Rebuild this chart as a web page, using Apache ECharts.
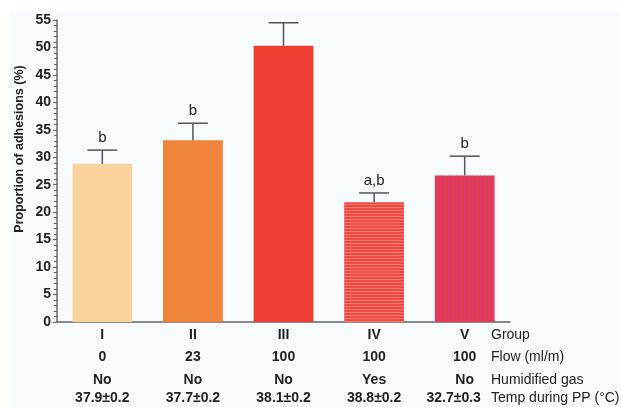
<!DOCTYPE html>
<html><head><meta charset="utf-8">
<script src="https://cdn.jsdelivr.net/npm/echarts@6/dist/echarts.min.js"></script>
<style>html,body{margin:0;padding:0;background:#fff}#c{width:621px;height:407px}</style>
</head><body><div id="c"></div>
<script>
var groups = ['I', 'II', 'III', 'IV', 'V'];
var flows = ['0', '23', '100', '100', '100'];
var humidified = ['No', 'No', 'No', 'Yes', 'No'];
var temps = ['37.9±0.2', '37.7±0.2', '38.1±0.2', '38.8±0.2', '32.7±0.3'];
var rowLabels = ['Group', 'Flow (ml/m)', 'Humidified gas', 'Temp during PP (°C)'];
var means = [28.8, 33.1, 50.3, 21.8, 26.7];
var errors = [2.5, 3.1, 4.2, 1.7, 3.5];
var letters = ['b', 'b', '', 'a,b', 'b'];
var yTicks = [0, 5, 10, 15, 20, 25, 30, 35, 40, 45, 50, 55];

var colors = ['#f8d39b', '#f0843a', '#ee3e34', '#f04b42', '#e63a50'];
var decals = [null, null, null,
  {symbol: 'rect', symbolSize: 1, dashArrayX: [1, 0], dashArrayY: [1, 2], color: 'rgba(255,140,130,0.7)'},
  {symbol: 'rect', symbolSize: 1, dashArrayX: [1, 3], dashArrayY: [1, 0], color: 'rgba(185,70,170,0.55)'}];

var barData = means.map(function (v, i) {
  var st = {color: colors[i]};
  if (decals[i]) st.decal = decals[i];
  return {value: v, itemStyle: st};
});
var errData = means.map(function (v, i) { return [i, v, errors[i]]; });

var chart = echarts.init(document.getElementById('c'));
var axisColor = '#666';
var textFont = '"Liberation Sans", Arial, sans-serif';

var gx = 491;
var rowY = [335, 357, 380, 398];

var graphics = [{
  type: 'rect', z: -10, silent: true,
  shape: {x: 10, y: 12, width: 611, height: 395},
  style: {fill: '#f7fbfe'}
}, {
  type: 'text', x: 20, y: 149, rotation: Math.PI / 2,
  style: {text: 'Proportion of adhesions (%)', font: 'bold 12.5px ' + textFont, fill: '#222', textAlign: 'center', textVerticalAlign: 'middle'}
}];
rowLabels.forEach(function (t, i) {
  graphics.push({type: 'text', x: gx, y: rowY[i],
    style: {text: t, font: '14px ' + textFont, fill: '#222', textAlign: 'left', textVerticalAlign: 'middle'}});
});

var rowStyle = function (lh, pad) {
  var s = {lineHeight: lh, fontSize: 14, fontWeight: 'bold', color: '#222', fontFamily: textFont};
  if (pad) s.padding = pad;
  return s;
};

chart.setOption({
  animation: false,
  backgroundColor: '#fff',
  graphic: graphics,
  grid: {left: 57, right: 111, top: 20, bottom: 85, containLabel: false},
  xAxis: {
    type: 'category',
    data: groups,
    axisLine: {lineStyle: {color: axisColor, width: 1.5}},
    axisTick: {show: false},
    axisLabel: {
      margin: 2,
      interval: 0,
      formatter: function (val, idx) {
        var last = idx === groups.length - 1 ? 'e' : 'd';
        return '{a|' + val + '}\n{b|' + flows[idx] + '}\n{c|' + humidified[idx] + '}\n{' + last + '|' + temps[idx] + '}';
      },
      rich: {a: rowStyle(22), b: rowStyle(22), c: rowStyle(24), d: rowStyle(12), e: rowStyle(12, [0, 22, 0, 0])}
    }
  },
  yAxis: {
    type: 'value',
    min: yTicks[0], max: yTicks[yTicks.length - 1], interval: 5,
    axisLine: {show: true, lineStyle: {color: axisColor, width: 1.5}},
    axisTick: {show: true, length: 4, lineStyle: {color: axisColor, width: 1.2}},
    minorTick: {show: true, splitNumber: 5, length: 3, lineStyle: {color: axisColor, width: 1}},
    splitLine: {show: false},
    axisLabel: {margin: 6, fontSize: 14, fontWeight: 'bold', color: '#222', fontFamily: textFont}
  },
  series: [{
    type: 'bar',
    data: barData,
    barWidth: '66%',
    z: 2
  }, {
    type: 'custom',
    data: errData,
    z: 3,
    renderItem: function (params, api) {
      var i = api.value(0);
      var m = api.value(1);
      var e = api.value(2);
      var p0 = api.coord([i, m]);
      var p1 = api.coord([i, m + e]);
      var lbl = letters[params.dataIndex];
      var children = [
        {type: 'line', shape: {x1: p0[0], y1: p0[1], x2: p1[0], y2: p1[1]}, style: {stroke: '#555', lineWidth: 1.5}},
        {type: 'line', shape: {x1: p1[0] - 15, y1: p1[1], x2: p1[0] + 15, y2: p1[1]}, style: {stroke: '#555', lineWidth: 1.5}}
      ];
      if (lbl) {
        children.push({type: 'text', x: p1[0], y: p1[1] - 12,
          style: {text: lbl, font: '15px ' + textFont, fill: '#222', textAlign: 'center', textVerticalAlign: 'middle'}});
      }
      return {type: 'group', children: children};
    }
  }]
});
</script>
</body></html>
